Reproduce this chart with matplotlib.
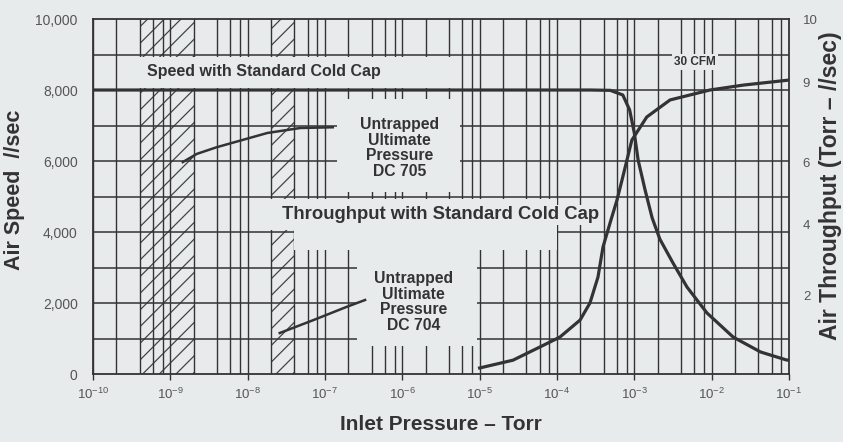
import matplotlib.pyplot as plt
from matplotlib.ticker import NullLocator

plt.rcParams['font.family'] = ['Liberation Sans', 'DejaVu Sans']
plt.rcParams['hatch.linewidth'] = 0.9

# speed with standard cold cap, l/sec
speed_p = [1e-10, 2.7e-4, 4.9e-4, 7.1e-4, 8.7e-4, 1.0e-3, 1.12e-3, 1.38e-3, 1.7e-3,
           2.14e-3, 3.16e-3, 4.8e-3, 8.7e-3, 1.9e-2, 4.3e-2, 9.3e-2, 1e-1]
speed_v = [8000, 8000, 7990, 7860, 7440, 6790, 6030, 5180, 4400,
           3800, 3130, 2450, 1720, 1040, 620, 395, 390]

# throughput with standard cold cap, Torr-l/sec (right axis)
thru_p = [1.0e-5, 2.7e-5, 6.0e-5, 1.09e-4, 1.99e-4, 2.67e-4, 3.39e-4, 3.94e-4, 4.85e-4,
          5.97e-4, 6.93e-4, 9.3e-4, 1.45e-3, 2.9e-3, 9.5e-3, 2.6e-2, 1e-1]
thru_v = [0.17, 0.39, 0.76, 1.04, 1.52, 2.0, 2.73, 3.58, 4.25,
          4.9, 5.46, 6.59, 7.24, 7.72, 8.0, 8.14, 8.28]

# untrapped ultimate pressure curves
dc705_p = [1.45e-9, 2.2e-9, 4.0e-9, 1.8e-8, 4.8e-8, 1.26e-7]
dc705_v = [5970, 6200, 6390, 6790, 6930, 6950]
dc704_p = [2.6e-8, 7.1e-8, 1.9e-7, 3.3e-7]
dc704_v = [1155, 1520, 1890, 2085]

x_ticks = [1e-10, 1e-9, 1e-8, 1e-7, 1e-6, 1e-5, 1e-4, 1e-3, 1e-2, 1e-1]
y_ticks = [0, 2000, 4000, 6000, 8000, 10000]
y_labels = ['0', '2,000', '4,000', '6,000', '8,000', '10,000']
r_ticks = [2.2, 4.2, 5.95, 8.2, 10]
r_labels = ['2', '4', '6', '9', '10']

bg = '#e8ebec'
ink = '#333333'
grey = '#555555'

fig = plt.figure(figsize=(8.43, 4.42), dpi=100, facecolor=bg)
ax = fig.add_axes([0.1103, 0.1538, 0.8256, 0.8032])
ax.set_facecolor(bg)
ax.set_xscale('log')
ax.set_xlim(1e-10, 1e-1)
ax.set_ylim(0, 10000)

# hatched bands
ax.axvspan(4e-10, 2e-9, facecolor='none', edgecolor='#444444', hatch='//', lw=0, zorder=1)
ax.axvspan(2e-8, 4e-8, facecolor='none', edgecolor='#444444', hatch='//', lw=0, zorder=1)

# chart paper grid: 1, 2, 4, 6, 8 per decade
for e in range(-10, -1):
    for m in [1, 2, 4, 6, 8]:
        ax.axvline(m * 10.0 ** e, color=ink, lw=1.0, zorder=1.5)
for yv in range(1000, 10000, 1000):
    ax.axhline(yv, color=ink, lw=1.1, zorder=1.5)

# blank areas behind the labels
def blank(x0, x1, y0, y1):
    ax.fill_between([x0, x1], y0, y1, color=bg, lw=0, zorder=2)

blank(2.1e-10, 4.8e-6, 8060, 8940)
blank(1.43e-7, 5.6e-6, 5130, 7750)
blank(1.94e-8, 4e-8, 4060, 4940)
blank(4e-8, 1e-4, 3500, 4940)
blank(2.6e-7, 9.2e-6, 800, 3500)

ax.plot(speed_p, speed_v, color=ink, lw=2.3, zorder=3, solid_capstyle='butt')
ax.plot(dc705_p, dc705_v, color=ink, lw=1.8, zorder=3)
ax.plot(dc704_p, dc704_v, color=ink, lw=1.8, zorder=3)

tkw = dict(ha='center', va='center', color=ink, weight='bold', zorder=4)
ax.text(1.6e-8, 8510, 'Speed with Standard Cold Cap', fontsize=11.5, **tkw)
ax.text(6.1e-3, 8790, '30 CFM', fontsize=8.5,
        bbox=dict(fc=bg, ec='none', pad=1.5), **tkw)
ax.text(9.3e-7, 6370, 'Untrapped\nUltimate\nPressure\nDC 705', fontsize=11.3,
        linespacing=1.05, **tkw)
ax.text(3.1e-6, 4480, 'Throughput with Standard Cold Cap', fontsize=13.3,
        bbox=dict(fc=bg, ec='none', pad=1), **tkw)
ax.text(1.4e-6, 2030, 'Untrapped\nUltimate\nPressure\nDC 704', fontsize=11.3,
        linespacing=1.05, **tkw)

ax.set_xticks(x_ticks)
ax.xaxis.set_minor_locator(NullLocator())
ax.set_yticks(y_ticks)
ax.set_yticklabels(y_labels)
ax.tick_params(axis='x', length=4, width=1, color=ink, labelsize=9.5,
               labelcolor=grey, pad=5)
ax.tick_params(axis='y', length=0, labelsize=10, labelcolor=grey, pad=11)
for s in ax.spines.values():
    s.set_color(ink)
    s.set_linewidth(1.3)
    s.set_zorder(5)

ax.set_xlabel('Inlet Pressure – Torr', fontsize=15, weight='bold', color=ink)
ax.xaxis.set_label_coords(0.5, -0.115)
ax.set_ylabel('Air Speed  //sec', fontsize=15.5, weight='bold', color=ink)
ax.yaxis.set_label_coords(-0.098, 0.52)

ax2 = ax.twinx()
ax2.set_ylim(0, 10)
ax2.plot(thru_p, thru_v, color=ink, lw=2.3, zorder=3)
ax2.set_yticks(r_ticks)
ax2.set_yticklabels(r_labels)
ax2.tick_params(axis='y', length=0, labelsize=9.5, labelcolor=grey, pad=10)
for s in ax2.spines.values():
    s.set_visible(False)
ax2.set_ylabel('Air Throughput (Torr – //sec)', fontsize=16.5, weight='bold', color=ink)
ax2.yaxis.set_label_coords(1.043, 0.53)

fig.savefig('out.png', dpi=100, facecolor=bg)
